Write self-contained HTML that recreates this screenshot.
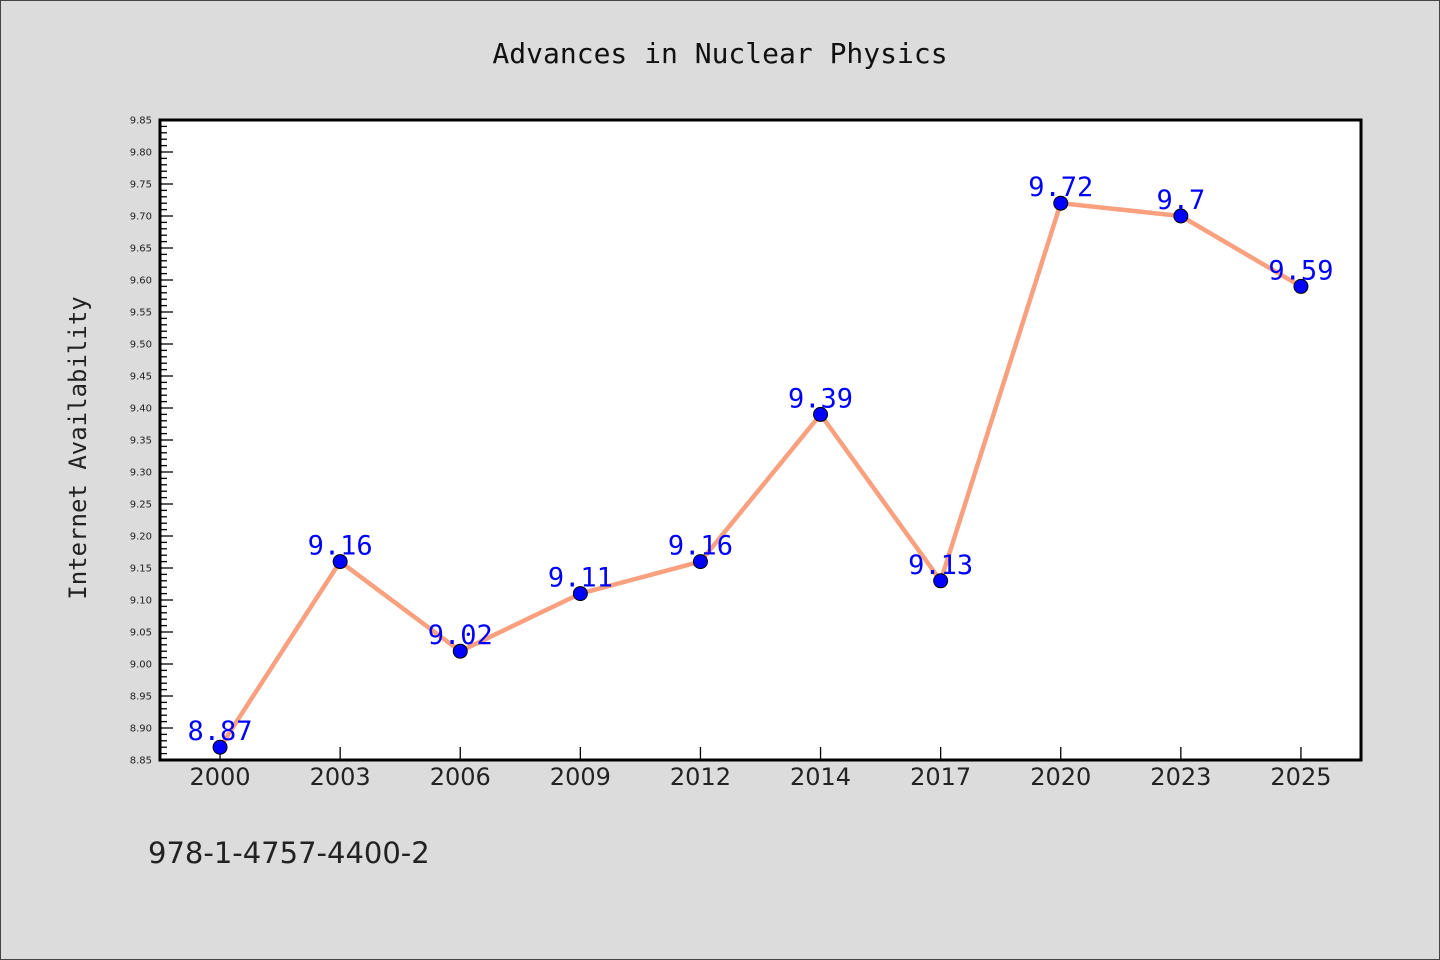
<!DOCTYPE html>
<html><head><meta charset="utf-8"><style>
body{margin:0;background:#dcdcdc;}
svg{display:block;font-family:"DejaVu Sans Mono","Liberation Mono",monospace;}
</style></head><body>
<svg id="c" width="1440" height="960">
<rect x="0.5" y="0.5" width="1439" height="959" fill="#dcdcdc" stroke="#444"/>
<text x="720" y="63" text-anchor="middle" font-size="28" fill="#111">Advances in Nuclear Physics</text>
<rect x="160" y="120" width="1201" height="640" fill="#fff"/>
<text transform="translate(86,448) rotate(-90)" text-anchor="middle" font-size="24" fill="#222">Internet Availability</text>
<text x="148" y="863" font-family="DejaVu Sans,sans-serif" font-size="29" fill="#222">978-1-4757-4400-2</text>
<g id="g"></g>
</svg>
<script>
const categories=["2000","2003","2006","2009","2012","2014","2017","2020","2023","2025"];
const values=[8.87,9.16,9.02,9.11,9.16,9.39,9.13,9.72,9.7,9.59];
const yTicks=["8.85","8.90","8.95","9.00","9.05","9.10","9.15","9.20","9.25","9.30","9.35","9.40","9.45","9.50","9.55","9.60","9.65","9.70","9.75","9.80","9.85"];
const NS="http://www.w3.org/2000/svg";
const L=160,R=1361,T=120,B=760,ymin=8.85,ymax=9.85;
const y=v=>B-(v-ymin)/(ymax-ymin)*(B-T);
const bw=(R-L)/categories.length;
const x=i=>L+bw*(i+0.5);
const g=document.getElementById('g');
function mk(t,a){const e=document.createElementNS(NS,t);for(const k in a)e.setAttribute(k,a[k]);g.appendChild(e);return e;}
// minor ticks
for(let k=0;k<=100;k++){const v=ymin+k*0.01;const major=k%5===0;
 const t=mk('line',{x1:L,x2:L+(major?13:7),y1:y(v),y2:y(v),stroke:'#000','stroke-width':1.3});
 
 }
yTicks.forEach(s=>{const t=mk('text',{x:L-8,y:y(+s)+3.5,'text-anchor':'end','font-size':10,fill:'#222','font-family':'DejaVu Sans,sans-serif'});t.textContent=s;
 
 });
categories.forEach((c,i)=>{const tk=mk('line',{x1:x(i),x2:x(i),y1:B,y2:B-13,stroke:'#000','stroke-width':1.3});
 
 
 const t=mk('text',{x:x(i),y:785,'text-anchor':'middle','font-size':24,fill:'#222','font-family':'DejaVu Sans,sans-serif'});t.textContent=c;
 
 });
const ln=mk('polyline',{points:values.map((v,i)=>x(i)+','+y(v)).join(' '),fill:'none',stroke:'#f9a07e','stroke-width':4.5,'stroke-linejoin':'round'});


values.forEach((v,i)=>{const p=mk('circle',{cx:x(i),cy:y(v),r:7,fill:'#0000ff',stroke:'#000','stroke-width':1});
 
 
 const t=mk('text',{x:x(i),y:y(v)-7,'text-anchor':'middle','font-size':27,fill:'#0000ff'});t.textContent=String(v);
 
 });
const f=mk('rect',{x:L,y:T,width:R-L,height:B-T,fill:'none',stroke:'#000','stroke-width':3});


</script>
</body></html>
